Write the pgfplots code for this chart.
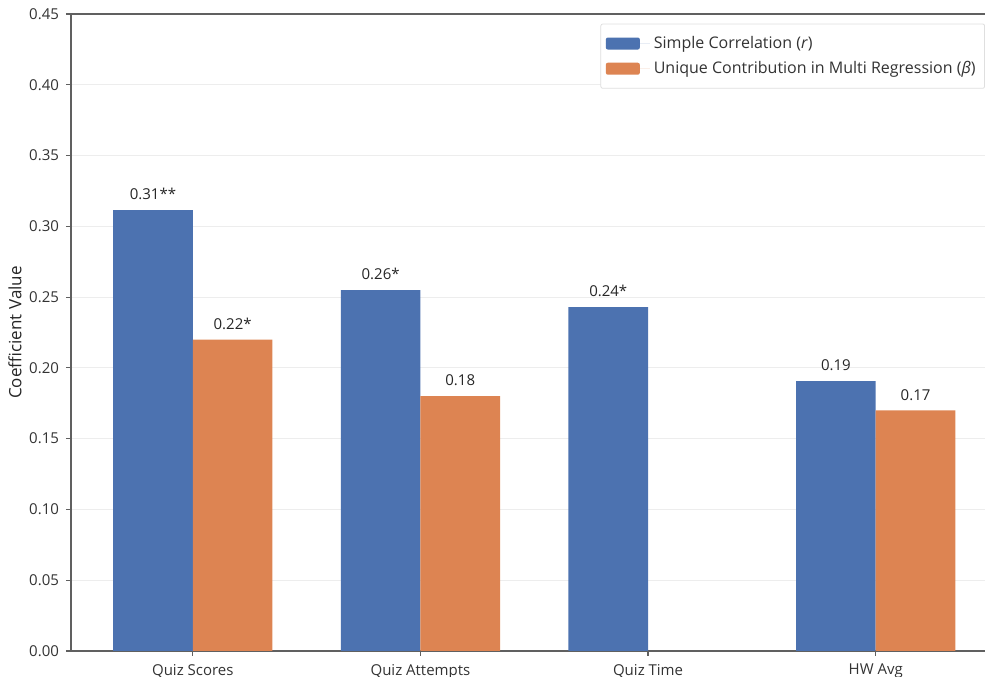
\documentclass[border=0pt]{standalone}
\usepackage{pgfplots}
\pgfplotsset{compat=1.18}
\usepackage{fontspec}
\setmainfont{Open Sans}
\definecolor{cblue}{HTML}{4C72B0}
\definecolor{corange}{HTML}{DD8452}
\definecolor{spine}{HTML}{606060}
\begin{document}
\begin{tikzpicture}
\begin{axis}[
  scale only axis, width=457pt, height=318.5pt,
  ymin=0, ymax=0.45, xmin=-0.535, xmax=3.48,
  ybar, bar width=0.35,
  xtick={0,1,2,3},
  xticklabels={Quiz Scores, Quiz Attempts, Quiz Time, HW Avg},
  ytick={0,0.05,0.10,0.15,0.20,0.25,0.30,0.35,0.40,0.45},
  /pgf/number format/.cd, fixed, fixed zerofill, precision=2, assume math mode=true, /pgfplots/.cd,
  ymajorgrids, grid style={gray!14, line width=0.5pt},
  axis x line*=box, axis y line*=left,
  axis line style={spine, line width=0.7pt},
  tick align=outside, xtick pos=bottom, ytick pos=left,
  major tick length=2.5pt, tick style={spine, line width=0.6pt},
  ticklabel style={font=\fontsize{7.5}{8.5}\selectfont, text=black!80},
  ylabel={Coefficient Value},
  ylabel style={font=\fontsize{8.5}{9.5}\selectfont, text=black!85, yshift=-3pt},
  xticklabel style={yshift=-0.5pt},
  legend style={at={(1.0,0.985)}, anchor=north east, draw=gray!25, rounded corners=1pt,
    font=\fontsize{8}{10}\selectfont, text=black!80, inner xsep=2.5pt, inner ysep=4pt, row sep=1pt,
    legend cell align=left},
  legend image code/.code={\fill[#1, draw=none] (0pt,-3pt) rectangle (17pt,3pt); \path (0pt,0pt) -- (22pt,0pt);},
  nodes near coords={\pgfplotspointmeta},
  point meta=explicit symbolic,
  nodes near coords style={font=\fontsize{7.5}{8.5}\selectfont, text=black!85, anchor=south, yshift=1.5pt},
]
\addplot[fill=cblue, draw=none, bar shift=-0.175] coordinates {
  (0,0.3115) [0.31**]
  (1,0.2550) [0.26*]
  (2,0.2430) [0.24*]
  (3,0.1907) [0.19]
};
\addplot[fill=corange, draw=none, bar shift=0.175] coordinates {
  (0,0.2200) [0.22*]
  (1,0.1800) [0.18]
  (3,0.1700) [0.17]
};
\legend{Simple Correlation (\textit{r}), Unique Contribution in Multi Regression (\textit{β})}
\end{axis}
\pgfresetboundingbox
\useasboundingbox ([xshift=-35.5pt,yshift=-13pt]current axis.south west) rectangle ([yshift=7pt]current axis.north east);
\end{tikzpicture}
\end{document}
